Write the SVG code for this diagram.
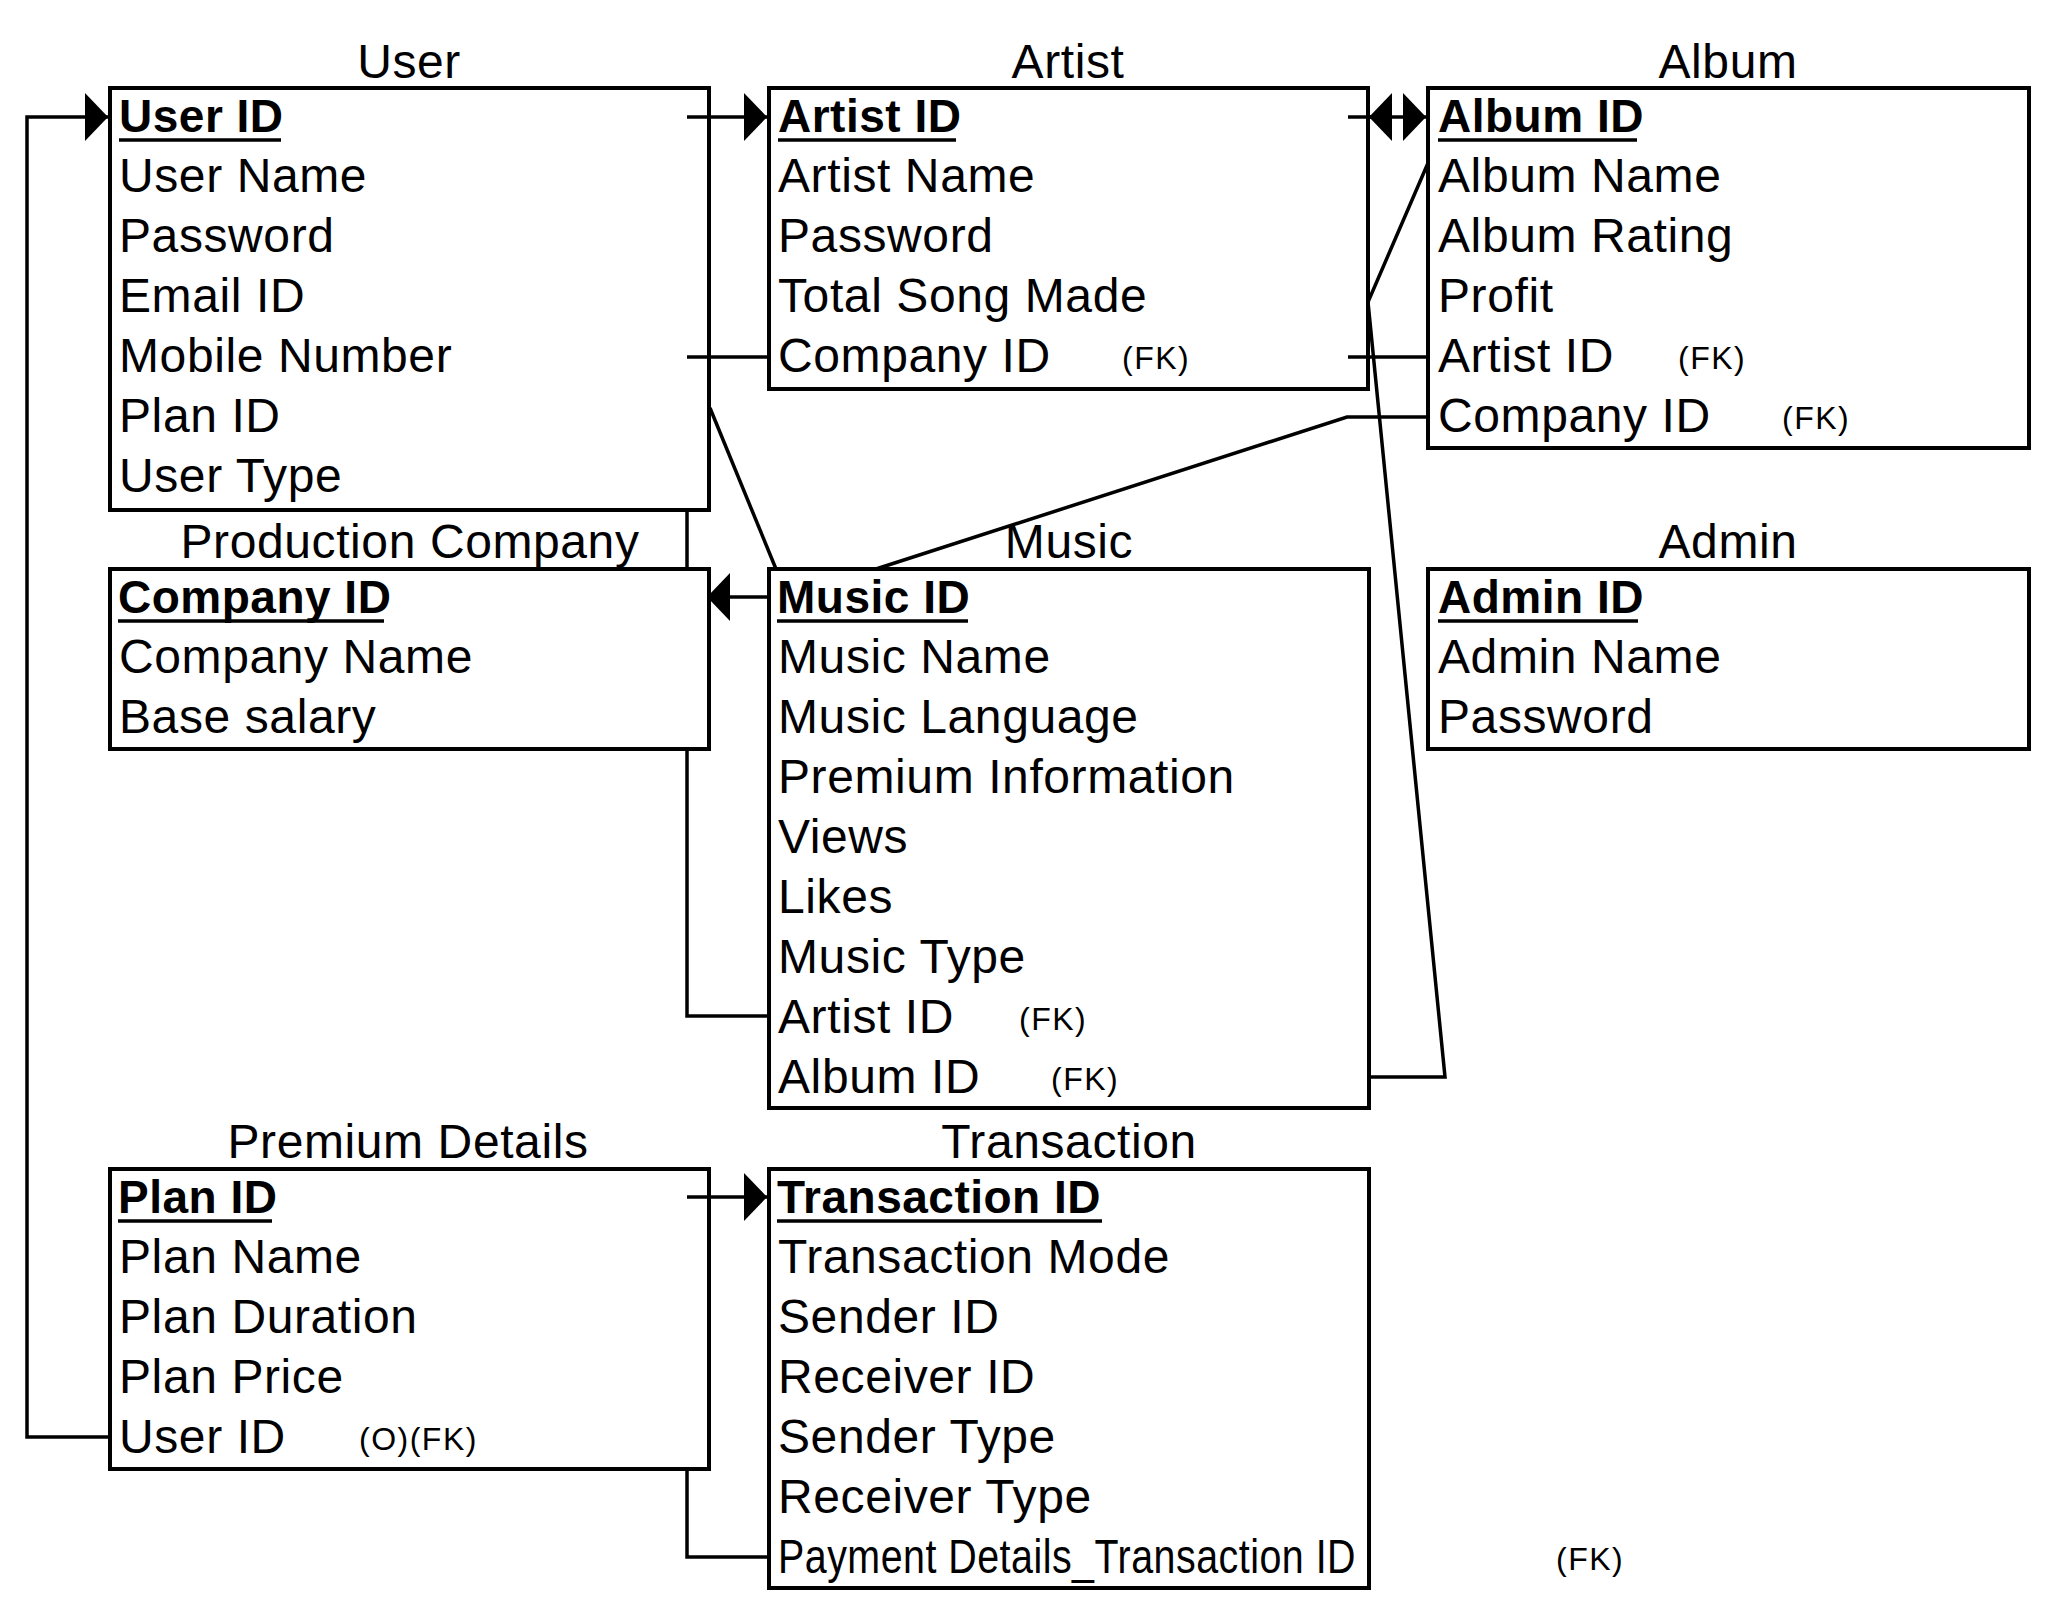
<svg xmlns="http://www.w3.org/2000/svg" width="2056" height="1616" viewBox="0 0 2056 1616">
<style>
text{font-family:"Liberation Sans",Arial,sans-serif;font-size:48px;letter-spacing:0.6px;fill:#000}
.b{font-weight:bold;font-size:46px;letter-spacing:0.5px}
.fk{font-size:32px;letter-spacing:1.5px}
.ttl{text-anchor:middle}
.box{fill:#fff;stroke:#000;stroke-width:4}
.ul{stroke:#000;stroke-width:3.5}
.c path{fill:none;stroke:#000;stroke-width:3.5}
</style>
<defs>
<marker id="arr" viewBox="0 0 23 48" refX="23" refY="24" markerWidth="23" markerHeight="48" markerUnits="userSpaceOnUse" orient="auto">
<path d="M0,0 L23,24 L0,48 Z" fill="#000"/>
</marker>
</defs>
<rect width="2056" height="1616" fill="#fff"/>

<g id="user">
<text class="ttl" x="409" y="78">User</text>
<rect class="box" x="110" y="88" width="599" height="422"/>
<text class="b" x="119" y="132">User ID</text>
<line class="ul" x1="119" y1="140" x2="281" y2="140"/>
<text x="119" y="192">User Name</text>
<text x="119" y="252">Password</text>
<text x="119" y="312">Email ID</text>
<text x="119" y="372">Mobile Number</text>
<text x="119" y="432">Plan ID</text>
<text x="119" y="492">User Type</text>
</g>

<g id="artist">
<text class="ttl" x="1068" y="78">Artist</text>
<rect class="box" x="769" y="88" width="599" height="301"/>
<text class="b" x="778" y="132">Artist ID</text>
<line class="ul" x1="778" y1="140" x2="956" y2="140"/>
<text x="778" y="192">Artist Name</text>
<text x="778" y="252">Password</text>
<text x="778" y="312">Total Song Made</text>
<text x="778" y="372">Company ID</text>
<text class="fk" x="1122" y="369">(FK)</text>
</g>

<g id="album">
<text class="ttl" x="1728" y="78">Album</text>
<rect class="box" x="1428" y="88" width="601" height="360"/>
<text class="b" x="1438" y="132">Album ID</text>
<line class="ul" x1="1438" y1="140" x2="1637" y2="140"/>
<text x="1438" y="192">Album Name</text>
<text x="1438" y="252">Album Rating</text>
<text x="1438" y="312">Profit</text>
<text x="1438" y="372">Artist ID</text>
<text class="fk" x="1678" y="369">(FK)</text>
<text x="1438" y="432">Company ID</text>
<text class="fk" x="1782" y="429">(FK)</text>
</g>

<g id="production-company">
<text class="ttl" x="410" y="558">Production Company</text>
<rect class="box" x="110" y="569" width="599" height="180"/>
<text class="b" x="118" y="613">Company ID</text>
<line class="ul" x1="118" y1="621" x2="384" y2="621"/>
<text x="119" y="673">Company Name</text>
<text x="119" y="733">Base salary</text>
</g>

<g id="music">
<text class="ttl" x="1069" y="558">Music</text>
<rect class="box" x="769" y="569" width="600" height="539"/>
<text class="b" x="777" y="613">Music ID</text>
<line class="ul" x1="777" y1="621" x2="968" y2="621"/>
<text x="778" y="673">Music Name</text>
<text x="778" y="733">Music Language</text>
<text x="778" y="793">Premium Information</text>
<text x="778" y="853">Views</text>
<text x="778" y="913">Likes</text>
<text x="778" y="973">Music Type</text>
<text x="778" y="1033">Artist ID</text>
<text class="fk" x="1019" y="1030">(FK)</text>
<text x="778" y="1093">Album ID</text>
<text class="fk" x="1051" y="1090">(FK)</text>
</g>

<g id="admin">
<text class="ttl" x="1728" y="558">Admin</text>
<rect class="box" x="1428" y="569" width="601" height="180"/>
<text class="b" x="1438" y="613">Admin ID</text>
<line class="ul" x1="1438" y1="621" x2="1638" y2="621"/>
<text x="1438" y="673">Admin Name</text>
<text x="1438" y="733">Password</text>
</g>

<g id="premium-details">
<text class="ttl" x="408" y="1158">Premium Details</text>
<rect class="box" x="110" y="1169" width="599" height="300"/>
<text class="b" x="118" y="1213">Plan ID</text>
<line class="ul" x1="118" y1="1221" x2="272" y2="1221"/>
<text x="119" y="1273">Plan Name</text>
<text x="119" y="1333">Plan Duration</text>
<text x="119" y="1393">Plan Price</text>
<text x="119" y="1453">User ID</text>
<text class="fk" x="359" y="1450">(O)(FK)</text>
</g>

<g id="transaction">
<text class="ttl" x="1069" y="1158">Transaction</text>
<rect class="box" x="769" y="1169" width="600" height="419"/>
<text class="b" x="777" y="1213">Transaction ID</text>
<line class="ul" x1="777" y1="1221" x2="1102" y2="1221"/>
<text x="778" y="1273">Transaction Mode</text>
<text x="778" y="1333">Sender ID</text>
<text x="778" y="1393">Receiver ID</text>
<text x="778" y="1453">Sender Type</text>
<text x="778" y="1513">Receiver Type</text>
<text x="778" y="1573" textLength="578" lengthAdjust="spacingAndGlyphs">Payment Details_Transaction ID</text>
<text class="fk" x="1556" y="1570">(FK)</text>
</g>

<g id="connectors" class="c">
<path d="M110,1437 H27 V117 H108" marker-end="url(#arr)"/>
<path d="M687,117 H767" marker-end="url(#arr)"/>
<path d="M687,357 H769"/>
<path d="M710,408 L776,569"/>
<path d="M687,510 V569 M687,749 V1016 H769"/>
<path d="M769,597 H707" marker-end="url(#arr)"/>
<path d="M876,569 L1347,417 H1428"/>
<path d="M1348,117 H1426" marker-end="url(#arr)"/>
<path d="M1392,117 H1369" marker-end="url(#arr)"/>
<path d="M1348,357 H1428"/>
<path d="M1369,1077 H1445 L1368,302 L1428,163"/>
<path d="M687,1197 H767" marker-end="url(#arr)"/>
<path d="M687,1469 V1557 H769"/>
</g>
</svg>
